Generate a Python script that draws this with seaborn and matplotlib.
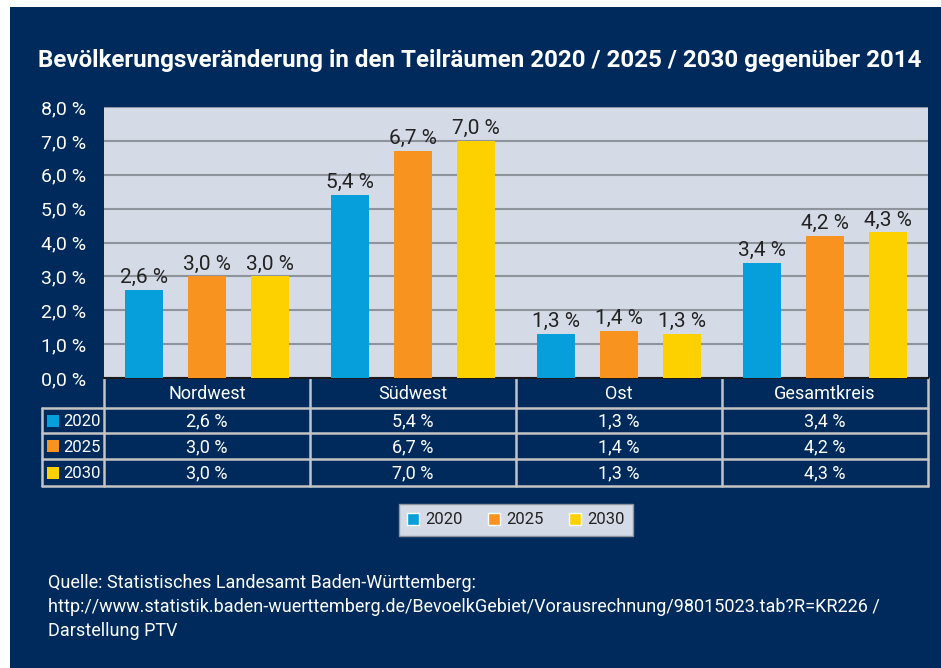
import numpy as np
import pandas as pd
import seaborn as sns
import matplotlib.pyplot as plt
from matplotlib.patches import Rectangle, Patch

regions = ['Nordwest', 'Südwest', 'Ost', 'Gesamtkreis']
years = ['2020', '2025', '2030']
v2020 = [2.6, 5.4, 1.3, 3.4]
v2025 = [3.0, 6.7, 1.4, 4.2]
v2030 = [3.0, 7.0, 1.3, 4.3]
yticks = [0, 1, 2, 3, 4, 5, 6, 7, 8]

colors = ['#069edb', '#f7931e', '#fdd100']
navy = '#002a5c'
panel = '#d5dbe6'

df = pd.DataFrame({'region': regions * 3,
                   'year': [y for y in years for _ in regions],
                   'value': v2020 + v2025 + v2030})

sns.set_style('white')
plt.rcParams['font.family'] = ['Roboto', 'DejaVu Sans']

def fmt(v):
    return f'{v:.1f} %'.replace('.', ',')

W, H = 941, 668
fig = plt.figure(figsize=(W / 100, H / 100), dpi=100, facecolor='white')

# background layer in pixel coordinates
bg = fig.add_axes([0, 0, 1, 1], zorder=0)
bg.set_xlim(0, W)
bg.set_ylim(H, 0)
bg.axis('off')
bg.add_patch(Rectangle((10, 7), W - 10, H - 7, facecolor=navy, edgecolor='none'))

bg.text(38, 60, 'Bevölkerungsveränderung in den Teilräumen 2020 / 2025 / 2030 gegenüber 2014',
        color='white', fontsize=17.4, fontweight='bold', va='center', ha='left')

# bar chart
x0, x1, ytop, ybot = 104, 928, 107, 378
ax = fig.add_axes([x0 / W, 1 - ybot / H, (x1 - x0) / W, (ybot - ytop) / H], zorder=2)
ax.set_facecolor(panel)
sns.barplot(data=df, x='region', y='value', hue='year', palette=colors, saturation=1,
            width=0.92, gap=0.4, linewidth=0, ax=ax, legend=False, zorder=3)
ax.set_ylim(0, 8)
ax.set_xlim(-0.5, len(regions) - 0.5)
ax.set_yticks(yticks)
ax.set_yticklabels([fmt(t) for t in yticks], color='white', fontsize=14)
ax.tick_params(axis='y', length=0, pad=13)
ax.set_xticks([])
ax.set_xlabel('')
ax.set_ylabel('')
ax.yaxis.grid(True, color='#8e939c', linewidth=1.5, zorder=1)
ax.set_axisbelow(True)
for s in ['top', 'right', 'left']:
    ax.spines[s].set_visible(False)
ax.spines['bottom'].set_color('#1a1a1a')
ax.spines['bottom'].set_linewidth(1.5)
for cont in ax.containers:
    ax.bar_label(cont, labels=[fmt(v) for v in cont.datavalues], padding=2,
                 fontsize=15, color='#222222')

# data table below the chart
cols = [104, 310, 516, 722, 928]
rows = [378, 408, 433, 459, 486]
lc = '#c4c4c4'
for x in cols:
    bg.plot([x, x], [rows[0], rows[-1]], color=lc, lw=1.8)
bg.plot([42, 42], [rows[1], rows[-1]], color=lc, lw=1.8)
for y in rows[1:]:
    bg.plot([42, cols[-1]], [y, y], color=lc, lw=1.8)
for i, r in enumerate(regions):
    bg.text((cols[i] + cols[i + 1]) / 2, (rows[0] + rows[1]) / 2 + 1, r,
            color='white', fontsize=13, ha='center', va='center')
for j, (yr, vals) in enumerate(zip(years, [v2020, v2025, v2030])):
    yc = (rows[j + 1] + rows[j + 2]) / 2
    bg.add_patch(Rectangle((47, yc - 6), 12, 12, facecolor=colors[j], edgecolor='none'))
    bg.text(63, yc + 1, yr, color='white', fontsize=12, ha='left', va='center')
    for i, v in enumerate(vals):
        bg.text((cols[i] + cols[i + 1]) / 2, yc + 1, fmt(v),
                color='white', fontsize=13, ha='center', va='center')

# legend
handles = [Patch(facecolor=c, label=y) for c, y in zip(colors, years)]
leg = fig.legend(handles=handles, loc='center', bbox_to_anchor=(516 / W, 1 - 520 / H),
                 ncol=3, frameon=True, fancybox=False, fontsize=12,
                 handlelength=0.7, handleheight=0.7, handletextpad=0.4,
                 columnspacing=1.5, borderpad=0.5)
leg.get_frame().set_facecolor(panel)
leg.get_frame().set_edgecolor('#8e939c')
leg.get_frame().set_alpha(1)
for t in leg.get_texts():
    t.set_color('#222222')

# source
src = ['Quelle: Statistisches Landesamt Baden-Württemberg:',
       'http://www.statistik.baden-wuerttemberg.de/BevoelkGebiet/Vorausrechnung/98015023.tab?R=KR226 /',
       'Darstellung PTV']
for k, line in enumerate(src):
    bg.text(48, 583 + k * 24, line, color='white', fontsize=13, ha='left', va='center')

fig.savefig('out.png', dpi=100, facecolor='white')
